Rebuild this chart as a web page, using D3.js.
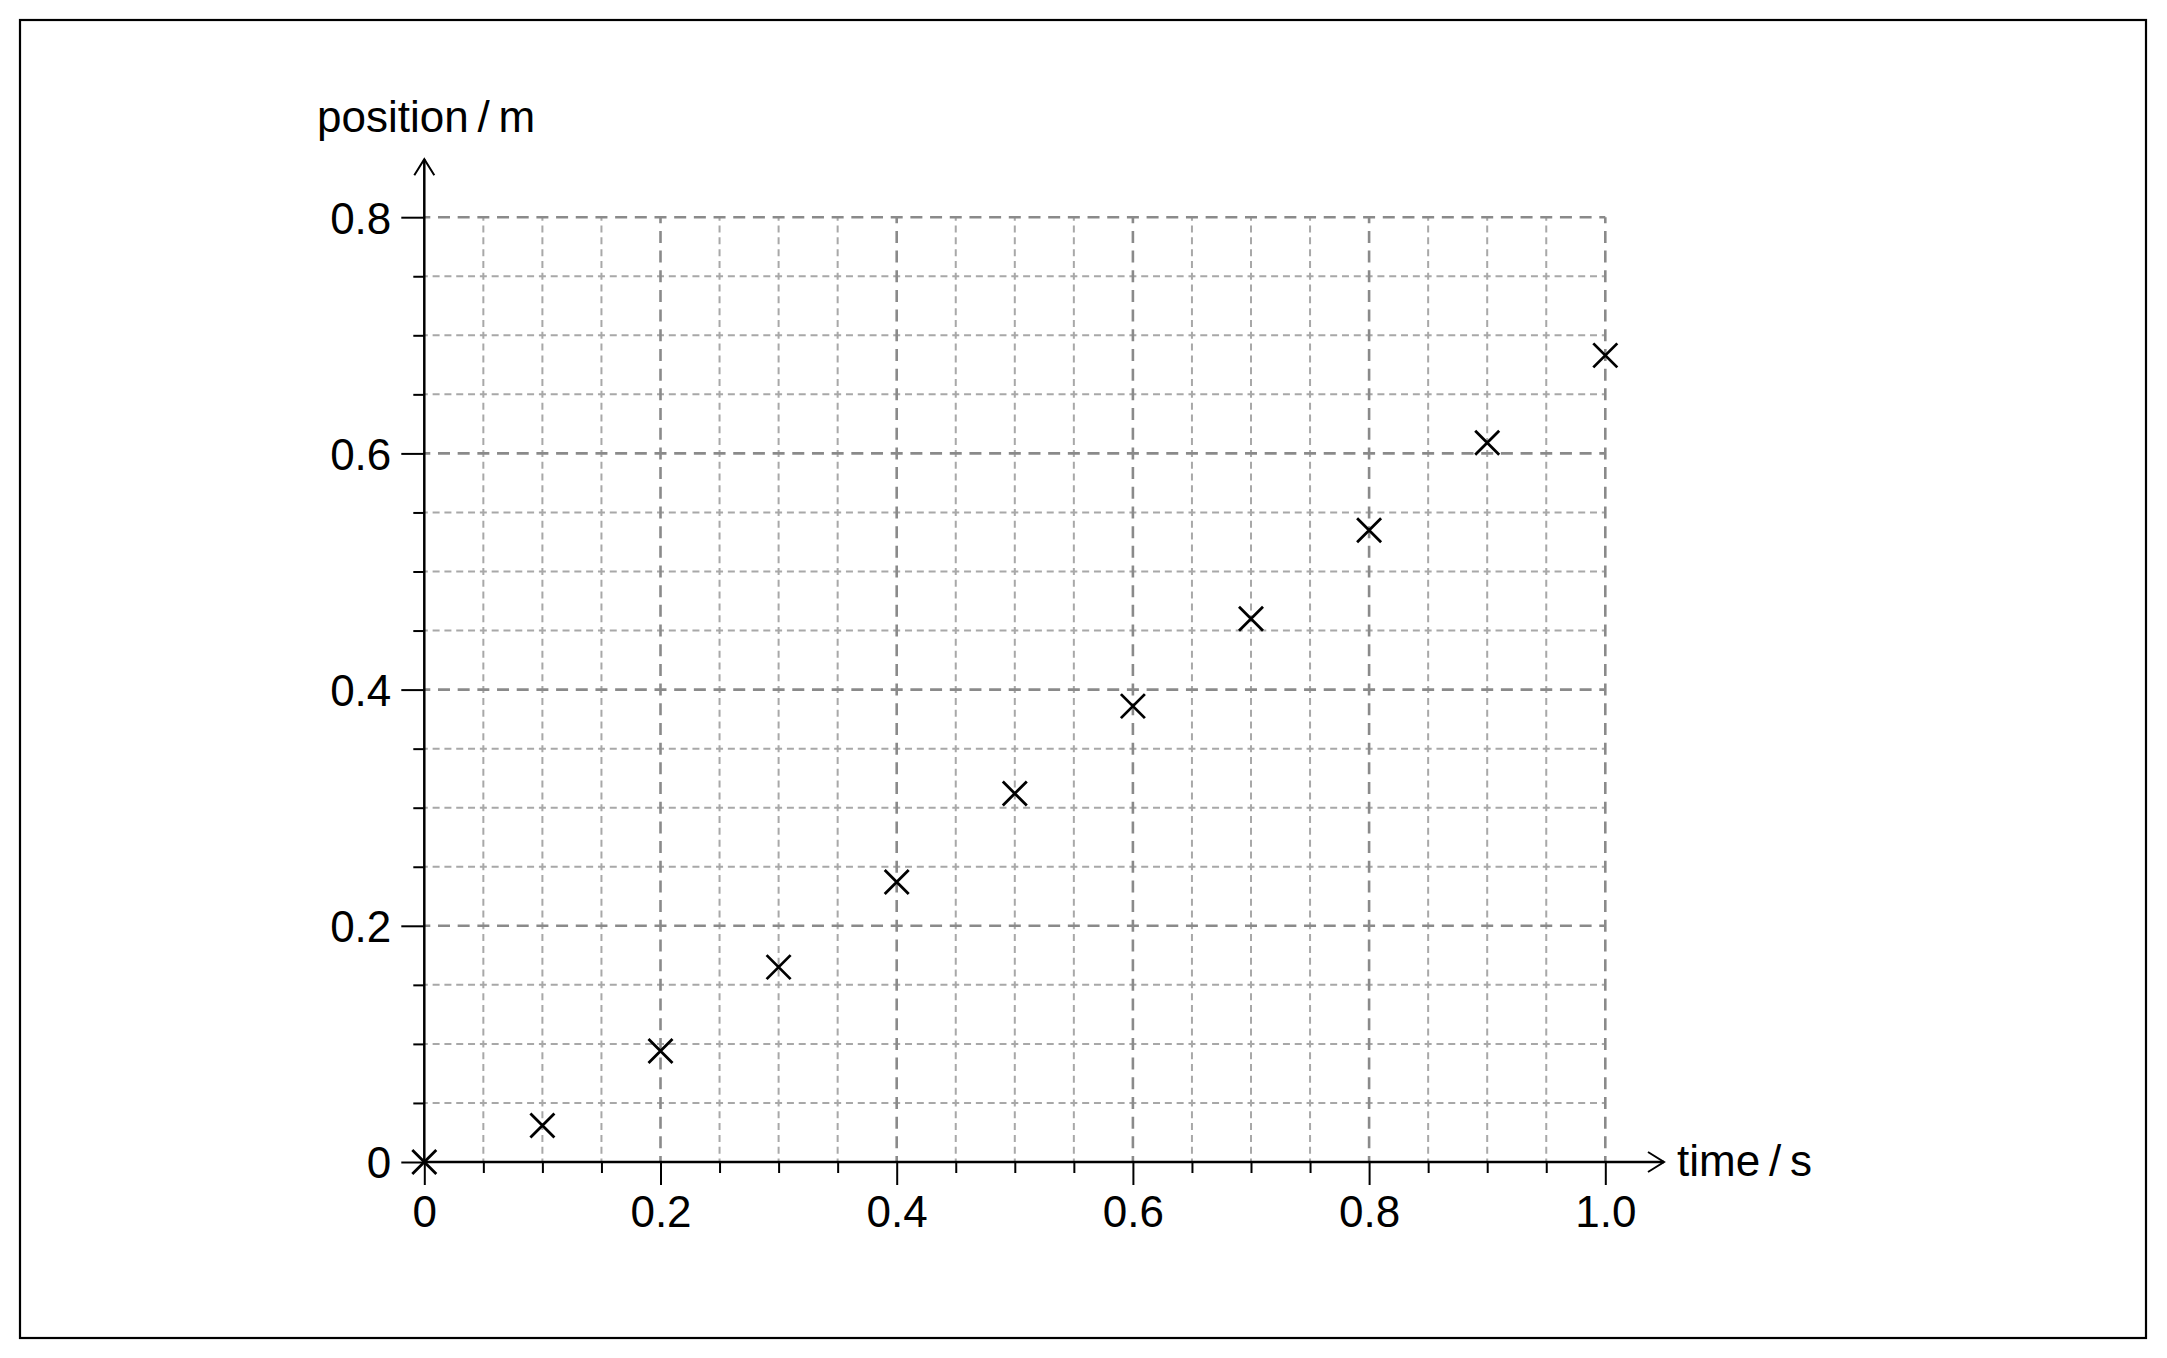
<!DOCTYPE html>
<html lang="en">
	<head>
		<meta charset="utf-8">
		<title>position vs time</title>
		<script src="https://d3js.org/d3.v7.min.js"></script>
		<style type="text/css">
			body { margin: 0; background: #fff; }
			text { font-family: "Liberation Sans", Arial, sans-serif; fill: #000; }
		</style>
	</head>
	<body>
		<script type="text/javascript">
		// data
		var times = [0, 0.1, 0.2, 0.3, 0.4, 0.5, 0.6, 0.7, 0.8, 0.9, 1.0];
		var positions = [0, 0.031, 0.094, 0.165, 0.237, 0.312, 0.386, 0.460, 0.535, 0.609, 0.683];

		var xMajor = [0, 0.2, 0.4, 0.6, 0.8, 1.0];
		var xLabels = ["0", "0.2", "0.4", "0.6", "0.8", "1.0"];
		var yMajor = [0, 0.2, 0.4, 0.6, 0.8];
		var yLabels = ["0", "0.2", "0.4", "0.6", "0.8"];
		var xMinor = [0.05, 0.1, 0.15, 0.25, 0.3, 0.35, 0.45, 0.5, 0.55, 0.65, 0.7, 0.75, 0.85, 0.9, 0.95];
		var yMinor = [0.05, 0.1, 0.15, 0.25, 0.3, 0.35, 0.45, 0.5, 0.55, 0.65, 0.7, 0.75];

		var xTitle = "time\u2009/\u2009s";
		var yTitle = "position\u2009/\u2009m";

		var W = 2167, H = 1358;
		var fontSize = 44;

		var svg = d3.select("body")
			.append("svg")
			.attr("width", W)
			.attr("height", H);

		// outer frame
		svg.append("rect")
			.attr("x", 20).attr("y", 20)
			.attr("width", 2126).attr("height", 1318)
			.attr("fill", "none")
			.attr("stroke", "#000")
			.attr("stroke-width", 2.2);

		var x = d3.scaleLinear().domain([0, 1]).range([424.3, 1605.3]);
		var y = d3.scaleLinear().domain([0, 0.8]).range([1162, 217.2]);

		var cell = x(0.05) - x(0);   // grid cell size in px

		var grid = svg.append("g");

		// dashes sized so that one dash sits centred on every crossing
		var minorPeriod = cell / 5, minorDash = 7;
		var majorPeriod = cell / 3, majorDash = 12;

		function drawGrid(vals, vertical, color, width, dash, period) {
			grid.selectAll(null)
				.data(vals)
				.enter()
				.append("line")
				.attr("x1", function(d){ return vertical ? x(d) : x(0); })
				.attr("x2", function(d){ return vertical ? x(d) : x(1); })
				.attr("y1", function(d){ return vertical ? y(0) : y(d); })
				.attr("y2", function(d){ return vertical ? y(0.8) : y(d); })
				.attr("stroke", color)
				.attr("stroke-width", width)
				.attr("stroke-dasharray", dash + "," + (period - dash))
				.attr("stroke-dashoffset", dash / 2);
		}

		drawGrid(xMinor, true, "#a8a8a8", 2, minorDash, minorPeriod);
		drawGrid(yMinor, false, "#a8a8a8", 2, minorDash, minorPeriod);
		drawGrid(xMajor.slice(1), true, "#8a8a8a", 2.6, majorDash, majorPeriod);
		drawGrid(yMajor.slice(1), false, "#8a8a8a", 2.6, majorDash, majorPeriod);

		// axes (ticks through d3 axes)
		var xAxisMinor = svg.append("g")
			.attr("transform", "translate(0," + y(0) + ")")
			.call(d3.axisBottom(x).tickValues(xMinor).tickSize(11).tickFormat(""));
		var xAxisMajor = svg.append("g")
			.attr("transform", "translate(0," + y(0) + ")")
			.call(d3.axisBottom(x).tickValues(xMajor).tickSize(23).tickPadding(11)
				.tickFormat(function(d, i){ return xLabels[i]; }));
		var yAxisMinor = svg.append("g")
			.attr("transform", "translate(" + x(0) + ",0)")
			.call(d3.axisLeft(y).tickValues(yMinor).tickSize(11).tickFormat(""));
		var yAxisMajor = svg.append("g")
			.attr("transform", "translate(" + x(0) + ",0)")
			.call(d3.axisLeft(y).tickValues(yMajor).tickSize(23).tickPadding(10)
				.tickFormat(function(d, i){ return yLabels[i]; }));

		[xAxisMinor, xAxisMajor, yAxisMinor, yAxisMajor].forEach(function(g){
			g.select(".domain").remove();
			g.selectAll("line").attr("stroke", "#000").attr("stroke-width", 2);
			g.selectAll("text")
				.style("font-size", fontSize + "px")
				.style("font-family", "'Liberation Sans', Arial, sans-serif")
				.attr("fill", "#000");
		});
		yAxisMajor.selectAll("text").attr("dy", "0.36em");

		// axis lines with open arrow heads
		var xTip = x(1) + 58.7, yTip = y(0.8) - 58;
		svg.append("line")
			.attr("x1", x(0)).attr("y1", y(0))
			.attr("x2", xTip).attr("y2", y(0))
			.attr("stroke", "#000").attr("stroke-width", 2.5);
		svg.append("line")
			.attr("x1", x(0)).attr("y1", y(0))
			.attr("x2", x(0)).attr("y2", yTip)
			.attr("stroke", "#000").attr("stroke-width", 2.5);
		svg.append("path")
			.attr("d", "M" + (xTip - 16) + "," + (y(0) - 10) + "L" + xTip + "," + y(0) + "L" + (xTip - 16) + "," + (y(0) + 10))
			.attr("fill", "none").attr("stroke", "#000").attr("stroke-width", 2);
		svg.append("path")
			.attr("d", "M" + (x(0) - 10) + "," + (yTip + 16) + "L" + x(0) + "," + yTip + "L" + (x(0) + 10) + "," + (yTip + 16))
			.attr("fill", "none").attr("stroke", "#000").attr("stroke-width", 2);

		// axis titles
		svg.append("text")
			.attr("x", xTip + 13)
			.attr("y", y(0) + 14)
			.style("font-size", fontSize + "px")
			.text(xTitle);
		svg.append("text")
			.attr("x", 317)
			.attr("y", 132)
			.style("font-size", fontSize + "px")
			.text(yTitle);

		// data points as crosses
		var s = 12;
		svg.selectAll(".pt")
			.data(times)
			.enter()
			.append("path")
			.attr("class", "pt")
			.attr("d", function(d, i){
				var cx = x(d), cy = y(positions[i]);
				return "M" + (cx - s) + "," + (cy - s) + "L" + (cx + s) + "," + (cy + s) +
					"M" + (cx - s) + "," + (cy + s) + "L" + (cx + s) + "," + (cy - s);
			})
			.attr("fill", "none")
			.attr("stroke", "#000")
			.attr("stroke-width", 2.8);
		</script>
	</body>
</html>
